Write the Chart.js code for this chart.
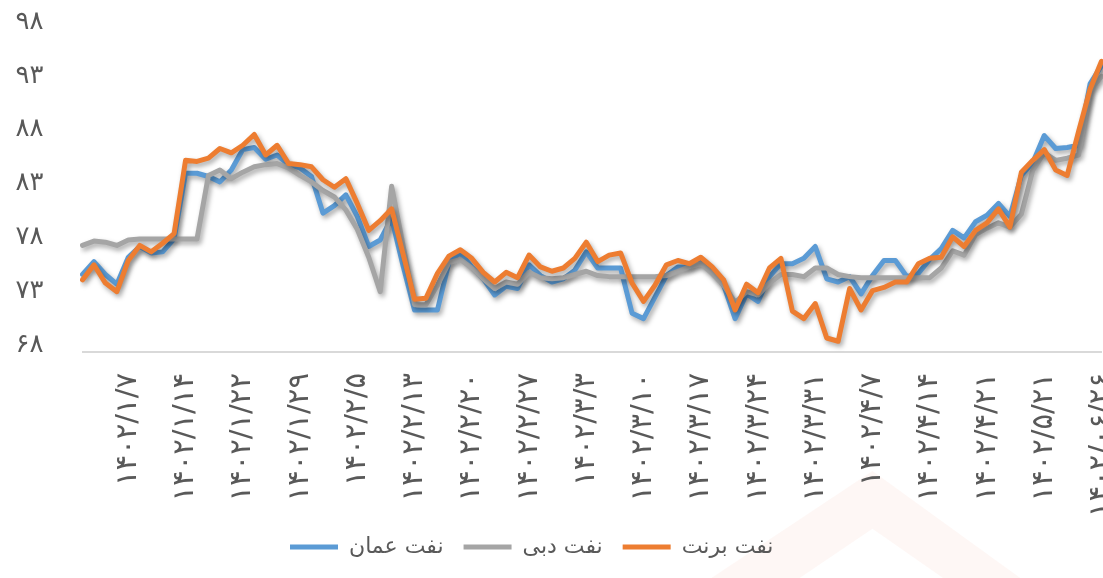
<!DOCTYPE html>
<html lang="fa">
<head>
<meta charset="utf-8">
<title>قیمت نفت</title>
<script src="https://cdn.jsdelivr.net/npm/chart.js@4.4.1/dist/chart.umd.min.js"></script>
<style>
  html, body { margin: 0; padding: 0; background: #fff; }
</style>
</head>
<body>
<canvas id="oil-chart" width="1103" height="578"></canvas>
<script>
// weekly date labels, one on every fifth trading day
const tickLabels = [
    '۱۴۰۲/۱/۷', '۱۴۰۲/۱/۱۴', '۱۴۰۲/۱/۲۲', '۱۴۰۲/۱/۲۹', '۱۴۰۲/۲/۵', '۱۴۰۲/۲/۱۳',
    '۱۴۰۲/۲/۲۰', '۱۴۰۲/۲/۲۷', '۱۴۰۲/۳/۳', '۱۴۰۲/۳/۱۰', '۱۴۰۲/۳/۱۷', '۱۴۰۲/۳/۲۴',
    '۱۴۰۲/۳/۳۱', '۱۴۰۲/۴/۷', '۱۴۰۲/۴/۱۴', '۱۴۰۲/۴/۲۱', '۱۴۰۲/۵/۲۱', '۱۴۰۲/۰۶/۲۶'
];

const seriesNames = ['نفت عمان', 'نفت دبی', 'نفت برنت'];

const oman = [
    75.2, 76.4, 75.2, 74.3, 76.8, 77.8, 77.2, 77.3, 78.5, 84.6,
    84.6, 84.3, 83.8, 84.9, 86.8, 87.0, 85.9, 86.3, 85.4, 85.1,
    84.3, 80.9, 81.6, 82.6, 80.6, 77.8, 78.4, 80.4, 76.0, 71.9,
    71.9, 71.9, 76.3, 77.2, 75.9, 74.8, 73.3, 74.1, 73.9, 76.1,
    75.1, 74.5, 74.8, 75.6, 77.3, 75.8, 75.8, 75.8, 71.6, 71.1,
    73.1, 75.1, 75.9, 75.9, 76.5, 75.6, 74.2, 71.1, 73.4, 72.7,
    75.0, 76.2, 76.2, 76.7, 77.8, 74.8, 74.5, 75.0, 73.4, 75.1,
    76.5, 76.5, 75.0, 75.3, 76.6, 77.6, 79.3, 78.6, 80.1, 80.7,
    81.8, 80.6, 84.4, 85.6, 88.1, 86.9, 87.0, 87.2, 92.9, 94.6
];

const dubai = [
    77.9, 78.3, 78.2, 77.9, 78.4, 78.5, 78.5, 78.5, 78.5, 78.5,
    78.5, 84.4, 84.9, 84.1, 84.7, 85.2, 85.4, 85.5, 85.1, 84.4,
    83.8, 83.0, 82.4, 81.2, 79.4, 76.8, 73.6, 83.4, 77.9, 72.4,
    72.4, 74.2, 76.3, 76.6, 75.8, 74.8, 73.9, 74.5, 74.3, 75.4,
    74.9, 74.8, 74.9, 75.2, 75.5, 75.1, 75.0, 75.0, 75.0, 75.0,
    75.0, 75.1, 75.5, 75.9, 76.2, 75.3, 74.2, 72.6, 73.6, 73.3,
    74.4, 75.2, 75.2, 75.0, 75.8, 75.8, 75.2, 75.0, 74.9, 74.9,
    74.9, 74.9, 74.9, 74.9, 74.9, 75.8, 77.4, 77.0, 78.9, 79.5,
    80.0, 79.6, 80.8, 84.9, 86.5, 85.8, 86.0, 86.3, 92.3, 93.6
];

const brent = [
    74.7, 76.1, 74.4, 73.6, 76.5, 77.9, 77.3, 78.1, 79.0, 85.8,
    85.7, 86.0, 86.9, 86.5, 87.2, 88.2, 86.3, 87.2, 85.5, 85.4,
    85.2, 84.0, 83.3, 84.1, 81.8, 79.3, 80.2, 81.3, 77.1, 72.9,
    73.0, 75.3, 76.9, 77.5, 76.7, 75.4, 74.5, 75.4, 74.9, 77.0,
    75.9, 75.5, 75.8, 76.7, 78.2, 76.4, 77.0, 77.2, 74.4, 72.7,
    74.2, 76.1, 76.5, 76.2, 76.8, 75.9, 74.7, 71.9, 74.3, 73.5,
    75.8, 76.7, 71.8, 71.1, 72.5, 69.3, 69.0, 73.9, 71.9, 73.7,
    74.0, 74.5, 74.5, 76.2, 76.7, 76.8, 78.7, 77.8, 79.3, 80.0,
    81.3, 79.6, 84.7, 85.8, 86.8, 84.9, 84.4, 88.5, 92.4, 95.0
];

const yMin = 68;
const yMax = 98;
const yStep = 5;

const FONT = "'DejaVu Sans', sans-serif";
const TEXT_COLOR = '#595959';

// persian digits for the value axis
function toFa(n) {
    return String(n).replace(/[0-9]/g, d => '۰۱۲۳۴۵۶۷۸۹'[d]);
}

// one category per trading day
const days = oman.map((v, i) => i);

// soft drop shadow under the lines, like the office chart
const lineShadow = {
    id: 'lineShadow',
    beforeDatasetDraw(chart) {
        const ctx = chart.ctx;
        ctx.save();
        ctx.shadowColor = 'rgba(0, 0, 0, 0.35)';
        ctx.shadowBlur = 5;
        ctx.shadowOffsetX = 2;
        ctx.shadowOffsetY = 3;
    },
    afterDatasetDraw(chart) {
        chart.ctx.restore();
    }
};

// short legend box near the bottom edge, centred a little left of the middle
const legendPlace = {
    id: 'legendPlace',
    afterInit(chart) {
        const legend = chart.legend;
        if (!legend) return;
        const fit = legend.fit;
        legend.fit = function () {
            fit.call(this);
            this.height = 62;
        };
    },
    afterLayout(chart) {
        if (chart.legend) chart.legend.right -= 38;
    }
};

// faint chevron watermark behind the chart
const watermark = {
    id: 'watermark',
    beforeDraw(chart) {
        const ctx = chart.ctx;
        const w = chart.width, h = chart.height;
        ctx.save();
        ctx.fillStyle = 'rgba(235, 140, 120, 0.07)';
        ctx.beginPath();
        ctx.moveTo(w * 0.645, h);
        ctx.lineTo(w * 0.791, h * 0.815);
        ctx.lineTo(w * 0.925, h);
        ctx.lineTo(w * 0.855, h);
        ctx.lineTo(w * 0.791, h * 0.915);
        ctx.lineTo(w * 0.725, h);
        ctx.closePath();
        ctx.fill();
        ctx.restore();
    }
};

const ctx = document.getElementById('oil-chart').getContext('2d');

new Chart(ctx, {
    type: 'line',
    data: {
        labels: days,
        datasets: [{
            label: seriesNames[0],
            data: oman,
            borderColor: '#5B9BD5',
            backgroundColor: '#5B9BD5',
            order: 3
        }, {
            label: seriesNames[1],
            data: dubai,
            borderColor: '#A5A5A5',
            backgroundColor: '#A5A5A5',
            order: 2
        }, {
            label: seriesNames[2],
            data: brent,
            borderColor: '#ED7D31',
            backgroundColor: '#ED7D31',
            order: 1
        }]
    },
    options: {
        responsive: false,
        animation: false,
        devicePixelRatio: 1,
        datasets: {
            line: {
                borderWidth: 5,
                tension: 0,
                pointRadius: 0,
                pointHoverRadius: 0,
                borderJoinStyle: 'round',
                borderCapStyle: 'round',
                fill: false
            }
        },
        layout: {
            padding: { top: 29, right: 1.5, bottom: 0, left: 0 }
        },
        plugins: {
            legend: {
                position: 'bottom',
                labels: {
                    usePointStyle: true,
                    pointStyle: 'line',
                    pointStyleWidth: 48,
                    padding: 20,
                    color: TEXT_COLOR,
                    font: { family: FONT, size: 22 },
                    sort: (a, b) => a.datasetIndex - b.datasetIndex
                }
            },
            tooltip: { enabled: false }
        },
        scales: {
            x: {
                type: 'category',
                offset: false,
                grid: { display: false, drawTicks: false },
                border: { display: true, color: '#d9d9d9', width: 2 },
                ticks: {
                    autoSkip: false,
                    minRotation: 90,
                    maxRotation: 90,
                    padding: 21,
                    color: TEXT_COLOR,
                    font: { family: FONT, size: 29 },
                    callback: (value, index) => index % 5 === 4 ? tickLabels[(index - 4) / 5] : null
                },
                afterFit(scale) {
                    scale.height = 164;
                    scale.paddingLeft = 0;
                    scale.paddingRight = 0;
                }
            },
            y: {
                min: yMin,
                max: yMax,
                grid: { display: false, drawTicks: false },
                border: { display: false },
                ticks: {
                    stepSize: yStep,
                    padding: 39,
                    labelOffset: -7,
                    color: TEXT_COLOR,
                    font: { family: FONT, size: 26 },
                    callback: value => toFa(value)
                },
                afterFit(scale) {
                    scale.width = 82.5;
                    scale.paddingTop = 0;
                    scale.paddingBottom = 0;
                }
            }
        }
    },
    plugins: [watermark, lineShadow, legendPlace]
});
</script>
</body>
</html>
